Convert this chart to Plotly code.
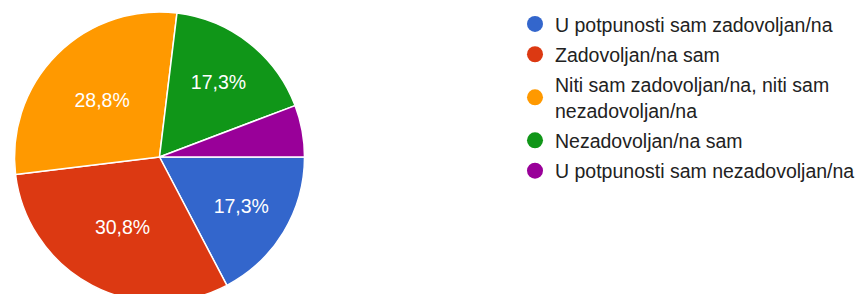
import plotly.graph_objects as go

labels = [
    "U potpunosti sam zadovoljan/na",
    "Zadovoljan/na sam",
    "Niti sam zadovoljan/na, niti sam<br>nezadovoljan/na",
    "Nezadovoljan/na sam",
    "U potpunosti sam nezadovoljan/na",
]
values = [9, 16, 15, 9, 3]
colors = ["#3366CC", "#DC3912", "#FF9900", "#109618", "#990099"]
text_pos = ["inside", "inside", "inside", "inside", "none"]

W, H = 864, 302
fig = go.Figure()
fig.add_trace(go.Pie(
    labels=labels, values=values, sort=False, direction="clockwise", rotation=90,
    marker=dict(colors=colors, line=dict(color="white", width=1.5)),
    texttemplate="%{percent:.1%}", textposition=text_pos,
    insidetextorientation="horizontal",
    textfont=dict(color="white", size=19.5, family="Liberation Sans, Arial"),
    domain=dict(x=[14.5 / W, 304.5 / W], y=[0, 1]),
    showlegend=False, hoverinfo="label+percent",
))
for lab, col in zip(labels, colors):
    fig.add_trace(go.Scatter(
        x=[None], y=[None], mode="markers", name=lab, legendgroup=lab,
        marker=dict(color=col, size=16, symbol="circle"),
    ))

fig.update_layout(
    width=W, height=H,
    margin=dict(l=0, r=0, t=12, b=0),
    paper_bgcolor="white", plot_bgcolor="white",
    separators=", ",
    xaxis=dict(visible=False), yaxis=dict(visible=False),
    legend=dict(
        x=515 / W, xanchor="left", y=1.025, yanchor="top",
        font=dict(size=19.5, color="#222222", family="Liberation Sans, Arial"),
        traceorder="grouped", tracegroupgap=2,
        bgcolor="rgba(0,0,0,0)", maxheight=290,
    ),
    showlegend=True,
)
fig.write_html(
    "out.html",
    config={"displayModeBar": False},
    post_script="document.body.style.margin='0';document.body.style.overflow='hidden';",
)
